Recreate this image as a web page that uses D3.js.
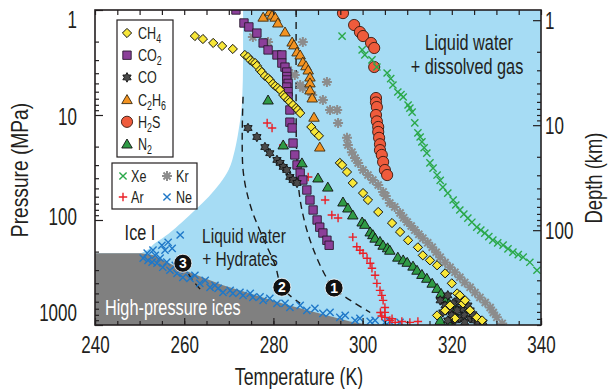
<!DOCTYPE html>
<html><head><meta charset="utf-8">
<script src="https://cdn.jsdelivr.net/npm/d3@7"></script>
<style>
body{margin:0;background:#fff}
svg{display:block}
text{font-family:"Liberation Sans",Arial,Helvetica,sans-serif;fill:#231f20}
</style>
</head><body>
<svg id="chart" width="610" height="389"></svg>
<script>
// ---------- axes / ticks ----------
const tempDomain = [240, 340];
const pressureDomain = [1, 1000];
const tempTickLabels = [240, 260, 280, 300, 320, 340];
const tempMinorStep = 5;
const pressureTickLabels = [1, 10, 100, 1000];
const depthTickLabels = [1, 10, 100];
const mpaPerKm = 1.25; // pressure gradient linking the depth axis

// ---------- phase regions (T in K, P in MPa) ----------
const iceIBoundary = [[273.2,1],[273.2,3],[273.0,7.2],[272.2,14],[271.3,22],[270.0,33],[268.0,45],[265.5,60],[262.5,80],[259.5,105],[256.5,135],[253.5,166],[250.3,207]];
const highPressureIceBoundary = [[250.3,207],[253.0,215],[259,290],[268.7,419],[283,640],[297.2,925],[301.7,1000]];

// ---------- dashed curves ----------
const dashed1 = [[285.1,1],[285.1,10],[285.2,21.6],[286.0,64.5],[288.2,155],[291.6,336],[293.6,444],[296.1,540],[301.7,760]];
const dashed2 = [[273.2,6.7],[273.2,33.4],[274.8,72],[277.4,139],[280.4,270],[281.9,437],[286.0,623]];
const dashed3 = [[259.7,258],[261.6,360],[264.2,488]];
const badges = [{n:"1",T:293.6,P:444},{n:"2",T:281.9,P:437},{n:"3",T:259.7,P:258}];

// ---------- gas series (T in K, P in MPa) ----------
const CH4 = [[262.4,1.77],[264.2,1.89],[266.5,2.06],[268.5,2.20],[270.9,2.35],[273.6,2.68],[274.3,2.8],[274.8,3.0],[275.4,3.13],[275.9,3.2],[276.3,3.4],[277.0,3.73],[277.4,3.9],[278.1,4.25],[278.8,4.45],[279.2,4.64],[279.9,5.05],[280.4,5.3],[281.0,5.53],[281.5,5.78],[282.2,6.45],[282.6,6.74],[283.3,7.2],[283.7,7.5],[284.4,8.03],[285.1,8.58],[285.5,8.96],[286.0,9.58],[288.5,13.0],[289.3,14.5],[290.2,15.8],[294.9,28.6],[295.4,29.9],[296.5,34.9],[297.8,44.4],[300.1,55.4],[301.2,64.5],[303.5,83.9],[306.6,106.9],[308.4,130],[310.2,156],[312.4,182],[313.5,217],[315.1,242],[316.7,270],[318.5,322],[320.0,401],[321.2,500],[322.5,623],[324.1,725],[325.6,846],[326.8,904],[316.7,810],[318.5,725],[319.6,651],[321.8,522],[323.0,583],[320.7,865]];
const CO2 = [[271.6,1.0],[273.4,1.33],[274.5,1.45],[276.3,1.66],[277.7,2.06],[278.8,2.40],[280.8,2.68],[281.9,2.68],[281.9,3.2],[282.6,3.5],[283.0,3.9],[283.0,4.3],[283.0,4.64],[283.3,5.0],[283.0,5.42],[283.3,6.0],[283.3,6.74],[283.7,8.96],[283.7,11.7],[284.2,13.3],[284.4,18.5],[284.8,24.0],[285.3,29.9],[286.0,35.7],[286.6,41.6],[287.5,51.8],[288.2,64.5],[288.9,80.3],[289.8,100],[290.4,117],[291.1,133],[292.0,156],[292.5,174]];
const CO = [[274.3,13.3],[276.3,16.2],[278.1,20.2],[279.2,23.1],[280.8,26.8],[281.5,28.6],[282.2,31.2],[283.0,33.4],[283.7,38.9],[284.4,41.6],[285.3,44.4],[317.4,583],[318.5,651],[319.6,725],[320.0,810],[320.7,904],[321.8,865],[322.9,810],[324.1,865],[325.2,904],[325.9,945],[322.3,695],[321.4,583],[319.1,522],[324.1,725],[318.0,758],[319.1,904],[322.9,945],[321.2,725],[320.3,623],[323.6,651],[324.7,790],[327.0,945]];
const C2H6 = [[277.7,1.17],[279.2,1.04],[279.7,1.12],[280.4,1.17],[281.0,1.33],[282.6,1.62],[284.2,2.02],[284.6,2.15],[285.3,2.51],[286.0,2.68],[286.6,3.13],[287.3,3.4],[287.8,3.73],[288.2,4.35],[288.2,4.95],[288.2,5.78],[288.7,6.89],[289.1,10.5],[290.4,20.2]];
const H2S = [[295.6,1.07],[298.1,1.39],[299.4,1.62],[300.1,1.77],[301.9,2.06],[302.6,2.30],[302.6,3.49],[303.0,6.89],[303.0,7.6],[303.2,8.40],[303.0,10.0],[303.2,11.5],[303.5,13.0],[303.5,14.5],[303.7,16.5],[303.9,19.0],[303.9,21.6],[304.3,24.0],[304.6,28.0],[305.0,33.4],[305.5,37.3]];
const N2 = [[278.8,7.2],[282.2,19.3],[286.4,28.6],[290.0,39.8],[292.2,48.6],[295.6,67.4],[296.7,76.9],[297.8,89.6],[299.9,104.5],[300.5,110],[301.7,130],[302.3,138],[302.8,149],[303.9,160],[304.6,174],[305.6,184],[306.1,194],[307.9,226],[309.1,240],[310.0,253],[311.3,275],[312.2,301],[313.3,330],[314.4,359],[315.6,400],[316.7,448],[317.6,500],[318.5,558],[319.4,620],[320.3,681],[321.2,846],[317.4,904],[319.6,945]];
const Xe = [[295.4,1.77],[299.9,2.40],[300.5,2.68],[302.1,2.99],[303.2,3.49],[305.5,3.98],[306.3,4.5],[306.8,5.18],[307.9,6.04],[308.6,6.4],[309.1,6.74],[310.2,8.03],[310.6,8.6],[311.1,9.37],[311.7,11.9],[312.4,14.8],[312.9,16.2],[313.3,18.0],[313.8,20.5],[314.4,23.1],[315.1,28.6],[315.8,32],[316.7,37.3],[317.4,42],[318.0,48.6],[319.1,55.4],[320.3,64.5],[320.9,72],[321.8,80.3],[322.7,88],[323.6,95.8],[324.5,105],[325.6,116.8],[326.5,125],[327.4,133.4],[328.3,144],[329.2,155.6],[330.3,165],[331.5,173.7],[332.6,188],[333.7,202.7],[334.9,214],[336.0,226],[337.5,252.7],[339.1,301]];
const Kr = [[275.4,1.81],[278.8,2.02],[286.6,2.02],[283.3,3.73],[284.8,4.16],[286.0,5.18],[286.6,5.53],[288.7,6.45],[291.1,7.2],[292.0,4.85],[292.7,8.96],[294.3,8.96],[294.5,11.9],[296.5,16.5],[296.7,19.3],[297.6,22.6],[298.3,25.7],[299.0,28.6],[300.1,33.4],[301.2,37.3],[302.3,41.6],[303.5,46.4],[304.6,54],[305.2,59],[306.1,68.9],[307.2,75],[308.4,85.8],[309.2,95],[310.0,104.5],[310.9,114],[311.7,124.8],[312.6,137],[313.5,148.9],[314.6,165],[315.6,181.6],[316.5,203],[317.4,226],[318.5,254],[319.6,282],[320.7,315],[321.8,351],[322.9,393],[324.1,438],[325.2,490],[326.3,546],[327.5,610],[328.6,681],[329.3,760],[330.1,846],[331.3,966]];
const Ar = [[278.6,11.9],[279.7,13.3],[282.2,19.3],[285.5,31.2],[287.8,38.9],[291.6,64.5],[293.1,89.6],[294.5,95.8],[297.8,145.7],[298.7,180],[299.4,193.9],[300.1,207],[301.0,231],[301.7,258],[302.1,288],[302.8,336],[303.2,401],[303.9,468],[304.3,522],[304.6,583],[305.0,681],[305.0,758],[305.0,846],[306.1,904],[307.3,945],[308.8,925],[310.6,945],[312.4,925],[304.0,760],[304.3,820],[306.6,870]];
const Ne = [[259.1,139],[256.4,163],[255.0,174],[253.0,194],[251.7,207],[250.8,231],[251.9,242],[253.9,258],[255.2,282],[256.8,301],[258.4,322],[259.7,352],[261.3,359],[263.5,401],[265.8,438],[268.7,489],[270.9,500],[273.2,522],[275.4,546],[277.7,583],[280.8,623],[283.7,681],[287.5,725],[291.1,775],[294.9,846],[298.3,904],[301.7,925],[305.0,945],[308.4,945],[255.7,194],[257.3,186],[253.5,217],[254.6,231],[252.8,252],[256.1,252],[258.0,270],[260.2,301],[262.4,336],[264.7,375],[266.9,419],[270.3,468],[274.8,500],[279.2,558],[282.6,623],[286.0,651],[289.3,695],[292.7,758],[296.1,810],[299.4,865],[302.8,904],[306.1,925],[272.5,489],[277.0,540],[267.6,447]];

// ---------- colours ----------
const colors = {
  liquid:"#a6dcf4", ice:"#808080",
  CH4:"#f7e638", CO2:"#8b3f99", CO:"#4a4a4a", C2H6:"#f39321", H2S:"#ef5b3c", N2:"#2f9a45",
  Xe:"#2aa84a", Kr:"#8c8c8c", Ar:"#ea2027", Ne:"#1f78c8"
};

// ---------- setup ----------
const plot = {left:95, right:541, top:10, bottom:325};
const svg = d3.select("#chart");
const x = d3.scaleLinear().domain(tempDomain).range([plot.left, plot.right]);
const y = d3.scaleLog().domain(pressureDomain).range([plot.top, plot.bottom]);
const yDepth = d3.scaleLog().domain([pressureDomain[0]/mpaPerKm, pressureDomain[1]/mpaPerKm]).range([plot.top, plot.bottom]);
const SX = 0.74; // condensed type

svg.append("defs").append("clipPath").attr("id","clip")
  .append("rect").attr("x",plot.left).attr("y",plot.top)
  .attr("width",plot.right-plot.left).attr("height",plot.bottom-plot.top);

const g = svg.append("g").attr("clip-path","url(#clip)");
g.append("rect").attr("x",plot.left).attr("y",plot.top)
  .attr("width",plot.right-plot.left).attr("height",plot.bottom-plot.top)
  .attr("fill",colors.liquid);

const line = d3.line().x(d=>x(d[0])).y(d=>y(d[1]));
const iceIPoly = [[tempDomain[0],pressureDomain[0]], ...iceIBoundary, [tempDomain[0], iceIBoundary[iceIBoundary.length-1][1]]];
g.append("path").attr("d", d3.line().curve(d3.curveMonotoneY).x(d=>x(d[0])).y(d=>y(d[1]))(iceIPoly)+"Z").attr("fill","#fff");
const hpPoly = [[tempDomain[0], highPressureIceBoundary[0][1]], ...highPressureIceBoundary, [tempDomain[0], pressureDomain[1]]];
g.append("path").attr("d", line(hpPoly)+"Z").attr("fill",colors.ice);

[dashed1,dashed2,dashed3].forEach(d=>{
  g.append("path").attr("d", d3.line().curve(d3.curveCatmullRom).x(p=>x(p[0])).y(p=>y(p[1]))(d))
   .attr("fill","none").attr("stroke","#1a1a1a").attr("stroke-width",1.4).attr("stroke-dasharray","7,5");
});

// ---------- symbol shapes ----------
const shapes = {
  diamond: r=>`M0,${-r}L${r},0L0,${r}L${-r},0Z`,
  square: r=>`M${-r},${-r}H${r}V${r}H${-r}Z`,
  triangle: r=>`M0,${-r}L${r*1.05},${r*0.8}L${-r*1.05},${r*0.8}Z`,
  circle: r=>`M${r},0A${r},${r} 0 1,1 ${-r},0A${r},${r} 0 1,1 ${r},0Z`,
  hexagram: r=>{let p=[];for(let i=0;i<12;i++){const a=Math.PI/6*i-Math.PI/2;const rr=i%2?r*0.58:r;p.push([rr*Math.cos(a),rr*Math.sin(a)]);}return "M"+p.map(q=>q[0].toFixed(2)+","+q[1].toFixed(2)).join("L")+"Z";},
  cross: r=>`M${-r},${-r}L${r},${r}M${-r},${r}L${r},${-r}`,
  plus: r=>`M${-r},0H${r}M0,${-r}V${r}`,
  asterisk: r=>{let s="";for(let i=0;i<4;i++){const a=Math.PI/4*i;s+=`M${(-r*Math.cos(a)).toFixed(2)},${(-r*Math.sin(a)).toFixed(2)}L${(r*Math.cos(a)).toFixed(2)},${(r*Math.sin(a)).toFixed(2)}`;}return s;}
};
const styles = {
  CH4:{shape:"diamond",r:4.6,fill:colors.CH4,stroke:"#111",sw:1},
  CO2:{shape:"square",r:4.2,fill:colors.CO2,stroke:"#2a1a30",sw:0.9},
  CO:{shape:"hexagram",r:4.8,fill:colors.CO,stroke:"#111",sw:0.9},
  C2H6:{shape:"triangle",r:5,fill:colors.C2H6,stroke:"#3a2a10",sw:0.9},
  H2S:{shape:"circle",r:5.6,fill:colors.H2S,stroke:"#3a1a10",sw:0.9},
  N2:{shape:"triangle",r:5,fill:colors.N2,stroke:"#111",sw:0.9},
  Xe:{shape:"cross",r:3.6,fill:"none",stroke:colors.Xe,sw:1.4},
  Kr:{shape:"asterisk",r:5,fill:"none",stroke:colors.Kr,sw:2},
  Ar:{shape:"plus",r:4.2,fill:"none",stroke:colors.Ar,sw:1.4},
  Ne:{shape:"cross",r:3.6,fill:"none",stroke:colors.Ne,sw:1.4}
};
const seriesData = {CH4, CO2, CO, C2H6, H2S, N2, Xe, Kr, Ar, Ne};
const drawOrder = ["Kr","Ne","Ar","H2S","Xe","C2H6","CO2","N2","CO","CH4"];
drawOrder.forEach(name=>{
  const st = styles[name];
  g.append("g").selectAll("path").data(seriesData[name]).join("path")
   .attr("transform", d=>`translate(${x(d[0])},${y(d[1])})`)
   .attr("d", shapes[st.shape](st.r))
   .attr("fill", st.fill).attr("stroke", st.stroke).attr("stroke-width", st.sw);
});

// badges
const bg = svg.append("g");
badges.forEach(b=>{
  const gg = bg.append("g").attr("transform",`translate(${x(b.T)},${y(b.P)})`);
  gg.append("circle").attr("r",9).attr("fill","#111").attr("stroke","#fff").attr("stroke-width",0.8);
  gg.append("text").attr("text-anchor","middle").attr("dy","0.36em").attr("font-size",14).attr("font-weight","bold").style("fill","#fff").text(b.n);
});

// ---------- region labels ----------
function ctext(sel, str, px, py, size, anchor, fill){
  return sel.append("text").attr("transform",`translate(${px},${py}) scale(${SX},1)`)
    .attr("text-anchor",anchor||"middle").attr("font-size",size).style("fill",fill||"#231f20").text(str);
}
const lab = svg.append("g");
ctext(lab,"Liquid water",469,50,22);
ctext(lab,"+ dissolved gas",467,74,22);
ctext(lab,"Liquid water",244,243,21);
ctext(lab,"+ Hydrates",240,266,21);
ctext(lab,"Ice I",140,240,22);
ctext(lab,"High-pressure ices",105,315,22,"start","#fff");

// ---------- frame & axes ----------
const minorPressure = [];
for (let dec=1; dec<1000; dec*=10) for (let m=2;m<=9;m++) minorPressure.push(dec*m);
const minorDepth = [];
for (let dec=1; dec<1000; dec*=10) for (let m=1;m<=9;m++){const v=dec*m; if(v>=yDepth.domain()[0] && v<=yDepth.domain()[1] && !depthTickLabels.includes(v)) minorDepth.push(v);}
const minorTemp = d3.range(tempDomain[0], tempDomain[1]+0.1, tempMinorStep);

function styleAxis(a){ a.select(".domain").remove(); a.selectAll("line").attr("stroke","#231f20").attr("stroke-width",1.2); }

const axL = svg.append("g").attr("transform",`translate(${plot.left},0)`)
  .call(d3.axisLeft(y).tickValues(pressureTickLabels).tickSize(-8).tickPadding(0).tickFormat(d3.format("d")));
styleAxis(axL);
const leftDy = [9,1,-4,-13];
axL.selectAll(".tick text").attr("x",null).attr("dy",null)
  .attr("transform",(d,i)=>`translate(-18,${8+leftDy[i]}) scale(${SX},1)`).attr("font-size",23).style("fill","#231f20").attr("font-family",null);
svg.append("g").attr("transform",`translate(${plot.left},0)`)
  .call(d3.axisLeft(y).tickValues(minorPressure).tickSize(-4).tickFormat("")).call(styleAxis);

const axR = svg.append("g").attr("transform",`translate(${plot.right},0)`)
  .call(d3.axisRight(yDepth).tickValues(depthTickLabels).tickSize(-8).tickPadding(0).tickFormat(d3.format("d")));
styleAxis(axR);
axR.selectAll(".tick text").attr("x",null).attr("dy",null)
  .attr("transform",`translate(4,8) scale(${SX},1)`).attr("font-size",23).attr("text-anchor","start").style("fill","#231f20").attr("font-family",null);
svg.append("g").attr("transform",`translate(${plot.right},0)`)
  .call(d3.axisRight(yDepth).tickValues(minorDepth).tickSize(-4).tickFormat("")).call(styleAxis);

const axB = svg.append("g").attr("transform",`translate(0,${plot.bottom})`)
  .call(d3.axisBottom(x).tickValues(tempTickLabels).tickSize(-7).tickPadding(0).tickFormat(d3.format("d")));
styleAxis(axB);
axB.selectAll(".tick text").attr("y",null).attr("dy",null)
  .attr("transform",`translate(0,28) scale(${SX},1)`).attr("font-size",23).style("fill","#231f20").attr("font-family",null);
svg.append("g").attr("transform",`translate(0,${plot.bottom})`)
  .call(d3.axisBottom(x).tickValues(minorTemp).tickSize(-4).tickFormat("")).call(styleAxis);
svg.append("g").attr("transform",`translate(0,${plot.top})`)
  .call(d3.axisTop(x).tickValues(minorTemp).tickSize(-5).tickFormat("")).call(styleAxis);

svg.append("rect").attr("x",plot.left).attr("y",plot.top)
  .attr("width",plot.right-plot.left).attr("height",plot.bottom-plot.top)
  .attr("fill","none").attr("stroke","#231f20").attr("stroke-width",1.6);

// axis titles
ctext(svg,"Temperature (K)",299,385,24);
svg.append("text").attr("transform",`translate(28,170) rotate(-90) scale(${SX+0.06},1)`).attr("text-anchor","middle").attr("font-size",24).text("Pressure (MPa)");
svg.append("text").attr("transform",`translate(602,178) rotate(-90) scale(${SX+0.06},1)`).attr("text-anchor","middle").attr("font-size",23).text("Depth (km)");

// ---------- legends ----------
function legend(items, box){
  const lg = svg.append("g");
  lg.append("rect").attr("x",box.x).attr("y",box.y).attr("width",box.w).attr("height",box.h)
    .attr("fill","#fff").attr("stroke","#231f20").attr("stroke-width",1.2);
  items.forEach(it=>{
    const st = styles[it.key];
    lg.append("path").attr("transform",`translate(${it.sx},${it.sy})`).attr("d",shapes[st.shape](st.r))
      .attr("fill",st.fill).attr("stroke",st.stroke).attr("stroke-width",st.sw);
    const t = lg.append("text").attr("transform",`translate(${it.tx},${it.sy+6}) scale(${SX},1)`).attr("font-size",17);
    it.parts.forEach(p=>{
      t.append("tspan").attr("font-size",p.sub?12:17).attr("dy",p.sub?4:(p.after?-4:0)).text(p.s);
    });
  });
}
const legend1Keys = [
  {key:"CH4",parts:[{s:"CH"},{s:"4",sub:1}]},
  {key:"CO2",parts:[{s:"CO"},{s:"2",sub:1}]},
  {key:"CO",parts:[{s:" CO"}]},
  {key:"C2H6",parts:[{s:"C"},{s:"2",sub:1},{s:"H",after:1},{s:"6",sub:1}]},
  {key:"H2S",parts:[{s:"H"},{s:"2",sub:1},{s:"S",after:1}]},
  {key:"N2",parts:[{s:"N"},{s:"2",sub:1}]}
];
legend(legend1Keys.map((k,i)=>({...k,sx:127,sy:33+i*22.2,tx:138})), {x:117,y:20,w:56,h:137});
const legend2Keys = [{key:"Xe",parts:[{s:"Xe"}]},{key:"Kr",parts:[{s:"Kr"}]},{key:"Ar",parts:[{s:"Ar"}]},{key:"Ne",parts:[{s:"Ne"}]}];
legend(legend2Keys.map((k,i)=>({...k,sx:i%2?167:123,sy:i<2?176:197,tx:i%2?176:131})), {x:112,y:163,w:85,h:46});
</script>
</body></html>
